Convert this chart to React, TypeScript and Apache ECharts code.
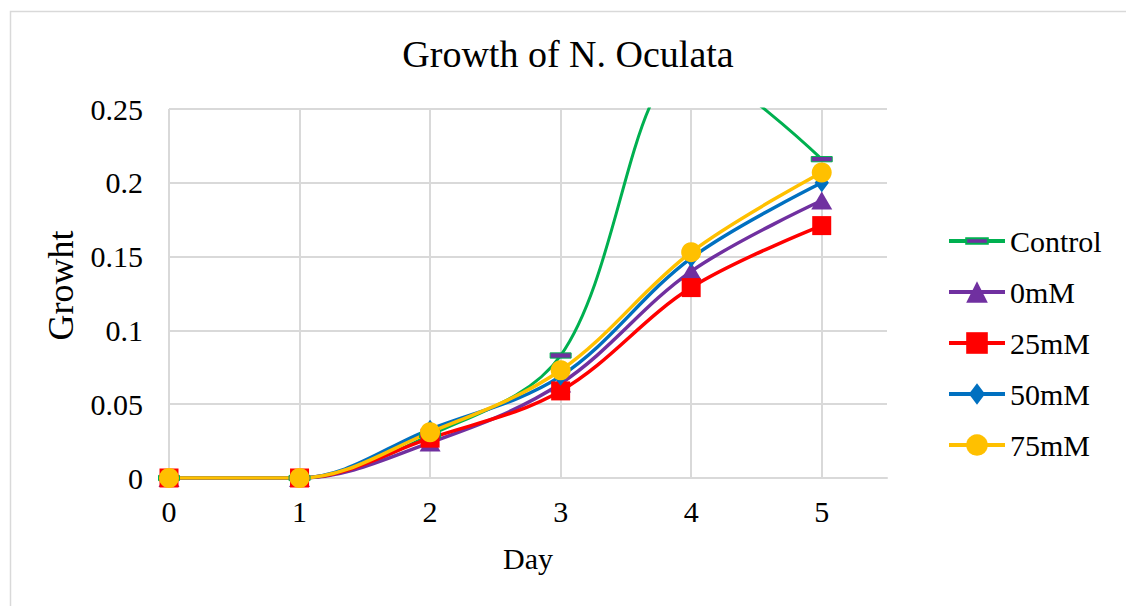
import React, { useEffect, useRef } from "react";
import * as echarts from "echarts";

// Days sampled and measured growth for each treatment
const days = [0, 1, 2, 3, 4, 5];
const seriesNames = ["Control", "0mM", "25mM", "50mM", "75mM"];
const control = [0, 0, 0.029, 0.083, 0.28, 0.216];
const mM0 = [0, 0, 0.024, 0.064, 0.14, 0.188];
const mM25 = [0, 0, 0.027, 0.059, 0.129, 0.171];
const mM50 = [0, 0, 0.033, 0.069, 0.149, 0.2];
const mM75 = [0, 0, 0.031, 0.073, 0.153, 0.207];
const yTicks = [0, 0.05, 0.1, 0.15, 0.2, 0.25];

const FONT = '"Liberation Serif", "Times New Roman", serif';

// Dash marker: a thin bar centred in a square box so it keeps its shape when scaled
const DASH = "path://M0,0M0,7.5h20v5h-20zM20,20";
// Narrow diamond inside a square box
const DIAMOND = "path://M0,0M10,0L17.5,10L10,20L2.5,10ZM20,20";

const pairs = (vals: number[]) => days.map((d, i) => [d, vals[i]]);

export default function App() {
  const ref = useRef<HTMLDivElement>(null);

  useEffect(() => {
    if (!ref.current) return;
    const chart = echarts.init(ref.current, undefined, { renderer: "svg" });

    const mk = (
      name: string,
      vals: number[],
      color: string,
      symbol: string,
      symbolSize: number | number[],
      extra: any = {}
    ) => ({
      name,
      type: "line",
      data: pairs(vals),
      smooth: 0.35,
      symbol,
      symbolSize,
      color,
      lineStyle: { color, width: 3.5 },
      itemStyle: { color },
      ...extra,
    });

    chart.setOption({
      animation: false,
      backgroundColor: "#ffffff",
      textStyle: { fontFamily: FONT, color: "#000" },
      title: {
        text: "Growth of N. Oculata",
        left: 563,
        textAlign: "center",
        top: 30,
        textStyle: { fontFamily: FONT, fontSize: 38, fontWeight: "normal", color: "#000" },
      },
      graphic: [
        {
          type: "rect",
          left: 8,
          top: 9,
          shape: { x: 0, y: 0, width: 1300, height: 800 },
          style: { fill: "none", stroke: "#D9D9D9", lineWidth: 1.5 },
          silent: true,
        },
      ],
      legend: {
        orient: "vertical",
        left: 942,
        top: 221,
        itemWidth: 56,
        itemHeight: 27,
        itemGap: 21,
        data: seriesNames,
        lineStyle: { width: 4 },
        textStyle: { fontFamily: FONT, fontSize: 30, color: "#000" },
      },
      grid: { left: 169, right: 239, top: 109, bottom: 128, containLabel: false },
      xAxis: {
        type: "value",
        min: 0,
        max: 5.5,
        interval: 1,
        name: "Day",
        nameLocation: "middle",
        nameGap: 65,
        nameTextStyle: { fontFamily: FONT, fontSize: 30, color: "#000" },
        axisLine: { show: true, lineStyle: { color: "#D9D9D9", width: 2 } },
        axisTick: { show: false },
        axisLabel: {
          margin: 18,
          fontFamily: FONT,
          fontSize: 30,
          color: "#000",
          showMaxLabel: false,
          formatter: (v: number) => (Number.isInteger(v) ? String(v) : ""),
        },
        splitLine: { show: true, showMaxLine: false, lineStyle: { color: "#D9D9D9", width: 2 } },
      },
      yAxis: {
        type: "value",
        min: yTicks[0],
        max: yTicks[yTicks.length - 1],
        interval: 0.05,
        name: "Growht",
        nameLocation: "middle",
        nameGap: 90,
        nameTextStyle: { fontFamily: FONT, fontSize: 36, color: "#000", padding: [0, 0, 0, 16] },
        axisLine: { show: false },
        axisTick: { show: false },
        axisLabel: {
          margin: 26,
          fontFamily: FONT,
          fontSize: 30,
          color: "#000",
          formatter: (v: number) => String(Math.round(v * 100) / 100),
        },
        splitLine: { show: true, lineStyle: { color: "#D9D9D9", width: 2 } },
      },
      series: [
        mk("Control", control, "#00B050", DASH, 21, {
          lineStyle: { color: "#00B050", width: 3 },
          itemStyle: { color: "#7030A0", borderColor: "#00B050", borderWidth: 1 },
        }),
        mk("0mM", mM0, "#7030A0", "triangle", [21, 18]),
        mk("25mM", mM25, "#FF0000", "rect", 19),
        mk("50mM", mM50, "#0070C0", DIAMOND, 19),
        mk("75mM", mM75, "#FFC000", "circle", 20),
      ],
    });

    return () => chart.dispose();
  }, []);

  return (
    <div
      ref={ref}
      style={{ position: "absolute", left: 0, top: 0, width: 1126, height: 606 }}
    />
  );
}
